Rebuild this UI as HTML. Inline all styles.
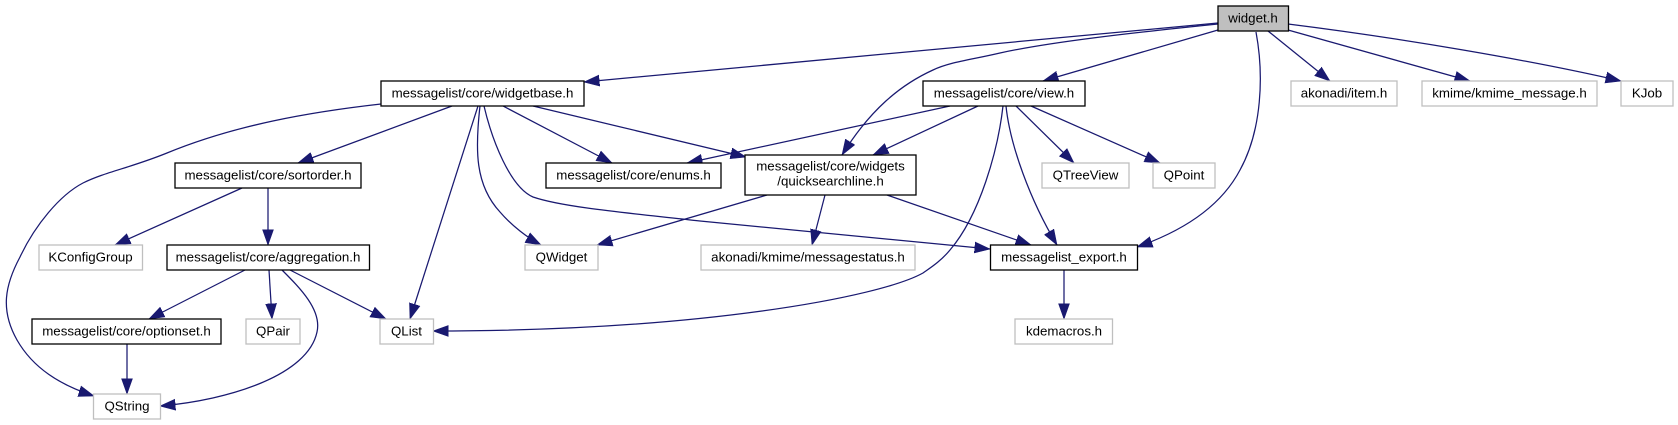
<!DOCTYPE html>
<html><head><meta charset="utf-8"><style>
html,body{margin:0;padding:0;background:#fff;width:1678px;height:425px;overflow:hidden}
svg{display:block}
text{font-family:"Liberation Sans",sans-serif;font-size:13.3px;fill:#000;text-anchor:middle}
.n{fill:#fff;stroke:#000;stroke-width:1.3}
.g{fill:#fff;stroke:#bfbfbf;stroke-width:1.3}
.e{fill:none;stroke:#191970;stroke-width:1.25}
</style></head><body>
<svg width="1678" height="425" viewBox="0 0 1678 425" xmlns="http://www.w3.org/2000/svg">
<defs><marker id="a" markerUnits="userSpaceOnUse" markerWidth="17" markerHeight="13" refX="15.5" refY="6" orient="auto"><path d="M0,0.5 L15.500,6 L0,11.500 Z" fill="#191970" stroke="#191970" stroke-width=".6"/></marker></defs>
<g class="e">
<path marker-end="url(#a)" d="M1218,23 L584,82"/>
<path marker-end="url(#a)" d="M1218,30 L1043,81"/>
<path marker-end="url(#a)" d="M1218,24 C1130,33 1050,42 1000,53 C970,60 950,62 933,70 C900,85 870,110 842,155"/>
<path marker-end="url(#a)" d="M1256,32 C1264,75 1262,130 1240,170 C1220,208 1180,232 1137,247"/>
<path marker-end="url(#a)" d="M1268,31 L1330,81"/>
<path marker-end="url(#a)" d="M1288,30 L1470,81"/>
<path marker-end="url(#a)" d="M1288,24 C1400,38 1530,60 1621,81"/>
<path marker-end="url(#a)" d="M381,104 C310,112 235,125 167,153 C130,168 105,172 83,183 C60,195 35,225 20,257 C5,285 0,310 17,340 C33,368 60,385 94,396"/>
<path marker-end="url(#a)" d="M452,106 L298,163"/>
<path marker-end="url(#a)" d="M478,106 L410,319"/>
<path marker-end="url(#a)" d="M480,106 C475,150 475,185 500,212 C512,226 528,238 541,245"/>
<path marker-end="url(#a)" d="M484,106 C492,140 510,187 533,197 C565,208 640,214 700,221 L990,249"/>
<path marker-end="url(#a)" d="M503,106 L612,163"/>
<path marker-end="url(#a)" d="M533,106 L746,157"/>
<path marker-end="url(#a)" d="M950,106 L687,163"/>
<path marker-end="url(#a)" d="M978,106 L873,155"/>
<path marker-end="url(#a)" d="M1003,106 C998,150 980,215 950,250 C940,262 930,268 923,273 C880,297 700,331 433,331"/>
<path marker-end="url(#a)" d="M1006,106 C1010,145 1030,200 1057,245"/>
<path marker-end="url(#a)" d="M1016,106 L1074,163"/>
<path marker-end="url(#a)" d="M1031,106 L1160,163"/>
<path marker-end="url(#a)" d="M767,195 L597,245"/>
<path marker-end="url(#a)" d="M825,195 L812,245"/>
<path marker-end="url(#a)" d="M887,195 L1031,245"/>
<path marker-end="url(#a)" d="M1064,270 L1064,319"/>
<path marker-end="url(#a)" d="M242,188 L115,245"/>
<path marker-end="url(#a)" d="M268,188 L268,245"/>
<path marker-end="url(#a)" d="M245,270 L149,319"/>
<path marker-end="url(#a)" d="M269,270 L272,319"/>
<path marker-end="url(#a)" d="M282,270 C300,288 322,310 317,332 C308,375 230,400 160,406"/>
<path marker-end="url(#a)" d="M290,270 L386,319"/>
<path marker-end="url(#a)" d="M127,344 L127,394"/>
</g>
<rect x="1218" y="6" width="70.5" height="25" fill="#bfbfbf" stroke="#000" stroke-width="1.3"/><text x="1253" y="22.3">widget.h</text>
<rect class="n" x="381" y="81" width="203" height="25"/><text x="482.5" y="97.3">messagelist/core/widgetbase.h</text>
<rect class="n" x="923" y="81" width="162" height="25"/><text x="1004" y="97.3">messagelist/core/view.h</text>
<rect class="g" x="1291" y="81" width="106" height="25"/><text x="1344" y="97.3">akonadi/item.h</text>
<rect class="g" x="1422" y="81" width="175" height="25"/><text x="1509.5" y="97.3">kmime/kmime_message.h</text>
<rect class="g" x="1621" y="81" width="52" height="25"/><text x="1647" y="97.3">KJob</text>
<rect class="n" x="175" y="163" width="186" height="25"/><text x="268" y="179.3">messagelist/core/sortorder.h</text>
<rect class="n" x="546" y="163" width="175" height="25"/><text x="633.5" y="179.3">messagelist/core/enums.h</text>
<rect class="n" x="745" y="155" width="171" height="40"/><text x="830.5" y="170.7">messagelist/core/widgets</text><text x="830.5" y="185.7">/quicksearchline.h</text>
<rect class="g" x="1042" y="163" width="87" height="25"/><text x="1085.5" y="179.3">QTreeView</text>
<rect class="g" x="1153" y="163" width="62" height="25"/><text x="1184" y="179.3">QPoint</text>
<rect class="g" x="39" y="245" width="103.500" height="25"/><text x="90.500" y="261.3">KConfigGroup</text>
<rect class="n" x="167" y="245" width="202.500" height="25"/><text x="268" y="261.3">messagelist/core/aggregation.h</text>
<rect class="g" x="525" y="245" width="73" height="25"/><text x="561.500" y="261.3">QWidget</text>
<rect class="g" x="701" y="245" width="214" height="25"/><text x="808" y="261.3">akonadi/kmime/messagestatus.h</text>
<rect class="n" x="990.500" y="245" width="147" height="25"/><text x="1064" y="261.3">messagelist_export.h</text>
<rect class="g" x="1015" y="319" width="97.500" height="25"/><text x="1064" y="335.3">kdemacros.h</text>
<rect class="n" x="32" y="319" width="189" height="25"/><text x="126.500" y="335.3">messagelist/core/optionset.h</text>
<rect class="g" x="246" y="319" width="54" height="25"/><text x="273" y="335.3">QPair</text>
<rect class="g" x="380" y="319" width="53.500" height="25"/><text x="406.500" y="335.3">QList</text>
<rect class="g" x="93.500" y="394" width="67" height="25"/><text x="127" y="410.3">QString</text>
</svg>
</body></html>
